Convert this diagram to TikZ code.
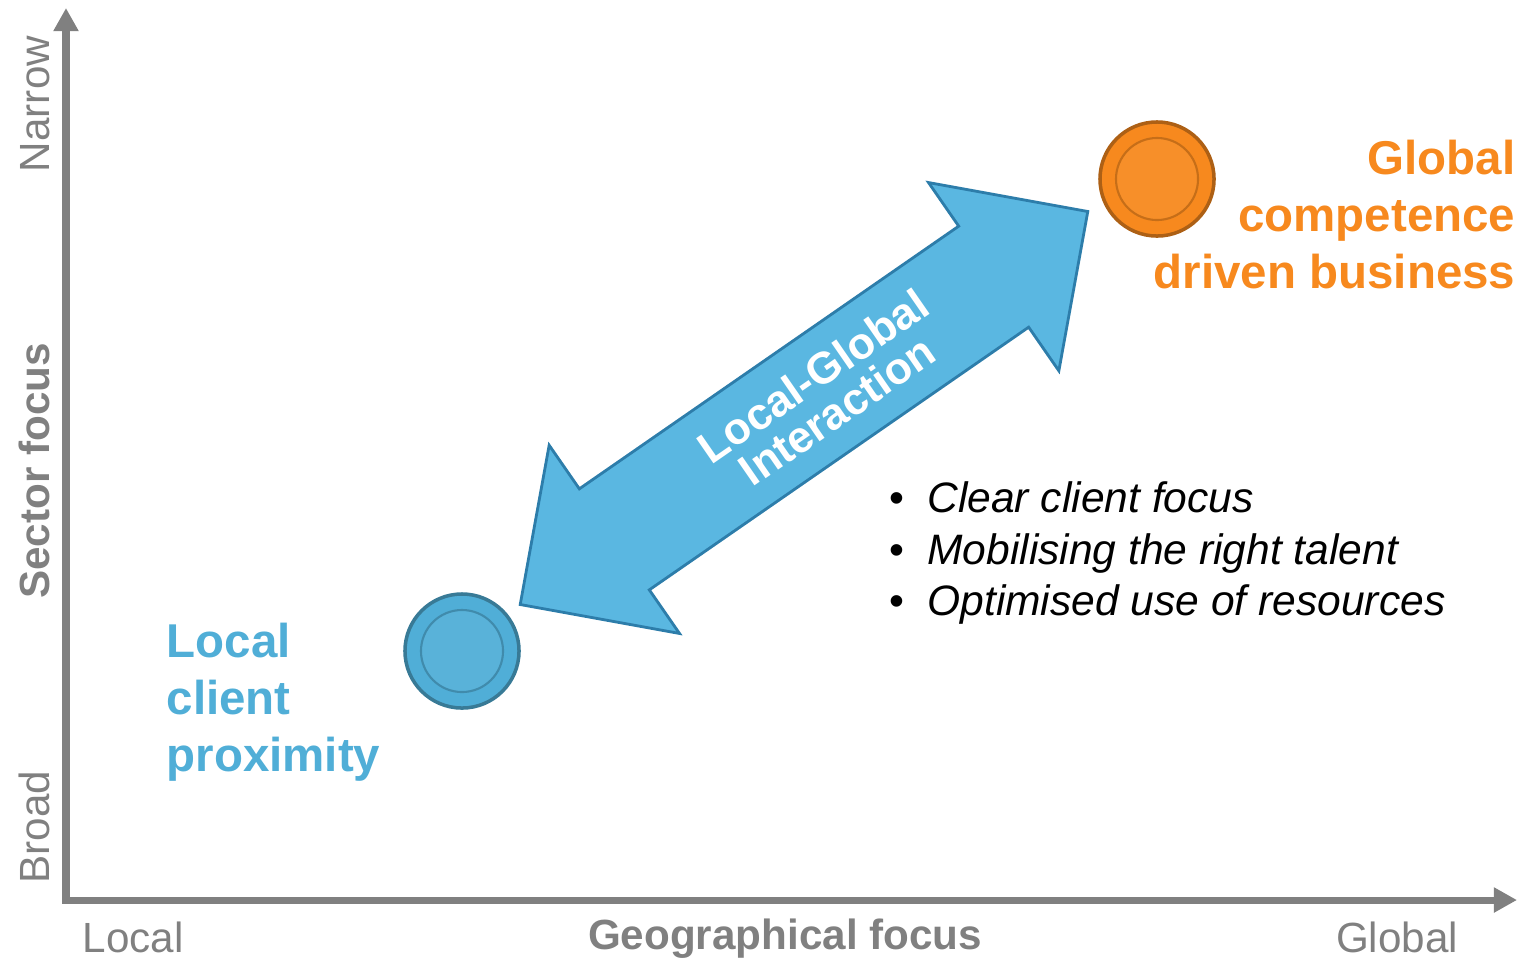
\documentclass[tikz,border=0pt]{standalone}
\usepackage{fontspec}
\setmainfont{Liberation Sans}
\usetikzlibrary{shapes,arrows,arrows.meta,shadows,positioning}

\definecolor{axisgray}{RGB}{128,128,128}
\definecolor{localblue}{RGB}{80,174,215}
\definecolor{arrowblue}{RGB}{90,183,225}
\definecolor{arrowedge}{RGB}{45,125,170}
\definecolor{globalorange}{RGB}{247,137,30}

\begin{document}
\begin{tikzpicture}[x=0.01cm, y=-0.01cm,
		axis/.style={draw=axisgray, line width=2pt, line join=miter, {Triangle[length=6.6pt,width=6.8pt]}-{Triangle[length=6.6pt,width=6.8pt]}},
		axislabel/.style={text=axisgray, inner sep=0pt, font=\fontsize{12}{14}\selectfont},
		coin/.style={circle, minimum size=1.14cm, inner sep=0pt, line width=1pt, fill=#1, draw=#1!70!black,
			path picture={\draw[#1!80!black, line width=0.6pt, fill=#1!95!white] (path picture bounding box.center) circle (0.41cm);}},
		bigtext/.style={inner sep=0pt, font=\fontsize{13.5}{16.3}\selectfont\bfseries}
	]
		\useasboundingbox (0,0) rectangle (1522,960);

		\coordinate (origin) at (66,900);
		\coordinate (ytop) at (66,8);
		\coordinate (xend) at (1517,900);
		\draw[axis] (ytop) -- (origin) -- (xend);

		\node[axislabel, rotate=90, anchor=base] (narrow) at (49,104) {Narrow};
		\node[axislabel, rotate=90, anchor=base] (broad) at (49,827) {Broad};
		\node[axislabel, rotate=90, anchor=base, font=\fontsize{12}{14}\selectfont\bfseries] (sectorfocus) at (49,471) {Sector focus};
		\node[axislabel, anchor=base] (local) at (133,952) {Local};
		\node[axislabel, anchor=base] (global) at (1397,952) {Global};
		\node[axislabel, anchor=base, font=\fontsize{12}{14}\selectfont\bfseries] (geofocus) at (785,949) {Geographical focus};

		\node[double arrow, rotate=34.7, minimum height=6.9cm, double arrow head extend=0.53cm,
			double arrow tip angle=90, inner xsep=0pt, inner ysep=0.6cm, fill=arrowblue, draw=arrowedge, line width=0.8pt] (interaction) at (804,408) {};
		\node[rotate=34.7, text=white, align=center, inner sep=0pt, font=\fontsize{12.6}{12}\selectfont\bfseries] (interactionlabel) at (825,393) {Local-Global\\Interaction};

		\node[coin=localblue] (localcoin) at (462,651) {};
		\node[coin=globalorange] (globalcoin) at (1157,179) {};

		\node[bigtext, anchor=north west, align=left, text=localblue] (localtext) at (166,622) {Local\\client\\proximity};
		\node[bigtext, anchor=north east, align=right, text=globalorange] (globaltext) at (1516,139) {Global\\competence\\driven business};

		\node[anchor=north west, align=left, inner sep=0pt, font=\fontsize{12.1}{14.7}\selectfont] (benefits) at (889,481)
			{\textbullet\hspace{6.5pt}\textit{Clear client focus}\\
			 \textbullet\hspace{6.5pt}\textit{Mobilising the right talent}\\
			 \textbullet\hspace{6.5pt}\textit{Optimised use of resources}};
\end{tikzpicture}
\end{document}
